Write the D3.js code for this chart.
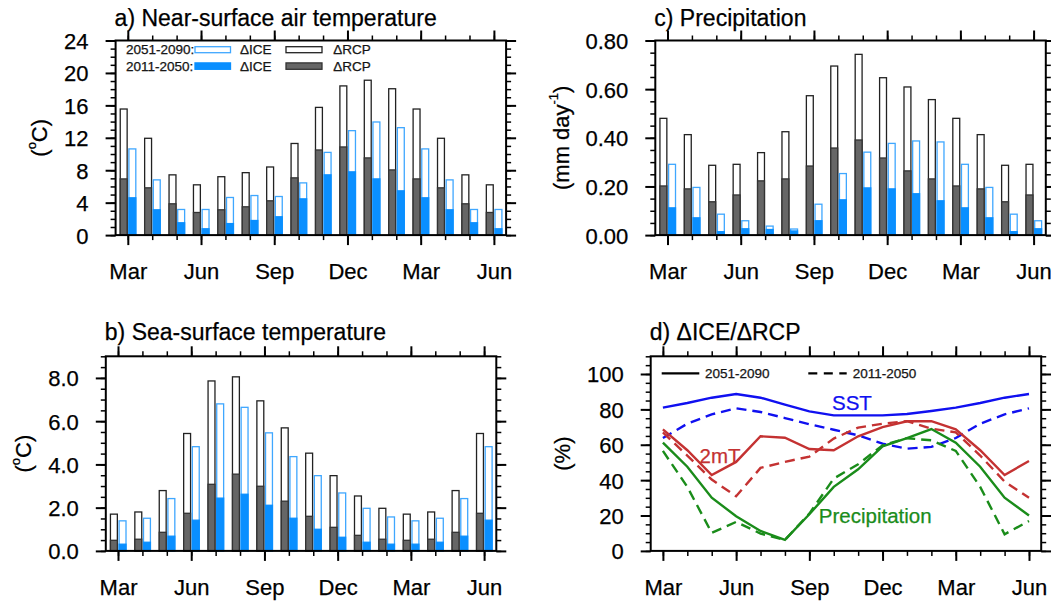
<!DOCTYPE html>
<html>
<head>
<meta charset="utf-8">
<script src="https://cdn.jsdelivr.net/npm/d3@7"></script>
<style>
  body { margin: 0; background: #fff; }
  svg { display: block; }
  svg text { stroke: currentColor; stroke-width: 0.25px; }
</style>
</head>
<body>
<script>
const width = 1051;
const height = 601;
const font = '"Liberation Sans", Arial, Helvetica, sans-serif';

// month index 0 = Mar, 15 = Jun of the next year
const monthTicks = [0, 3, 6, 9, 12, 15];
const monthLabels = ['Mar', 'Jun', 'Sep', 'Dec', 'Mar', 'Jun'];

// a) near-surface air temperature (degC)
const t2mRcp51 = [15.55, 11.94, 7.43, 6.2, 7.2, 7.7, 8.4, 11.3, 15.75, 18.4, 19.1, 18.05, 15.55, 11.94, 7.43, 6.2];
const t2mRcp11 = [6.93, 5.83, 3.86, 2.79, 3.12, 3.49, 4.23, 7.06, 10.5, 10.87, 9.52, 8.04, 6.93, 5.83, 3.86, 2.79];
const t2mIce51 = [10.63, 6.81, 3.16, 3.16, 4.64, 4.88, 4.76, 6.44, 10.2, 12.88, 13.95, 13.25, 10.63, 6.81, 3.16, 3.16];
const t2mIce11 = [4.6, 3.12, 1.52, 0.78, 1.42, 1.8, 2.26, 4.47, 7.43, 7.8, 6.93, 5.46, 4.6, 3.12, 1.52, 0.78];

// c) precipitation (mm/day)
const prRcp51 = [0.48, 0.413, 0.287, 0.291, 0.339, 0.425, 0.573, 0.695, 0.743, 0.647, 0.609, 0.557, 0.48, 0.413, 0.287, 0.291];
const prRcp11 = [0.202, 0.19, 0.137, 0.165, 0.223, 0.231, 0.284, 0.358, 0.391, 0.317, 0.264, 0.231, 0.202, 0.19, 0.137, 0.165];
const prIce51 = [0.291, 0.196, 0.086, 0.059, 0.037, 0.025, 0.127, 0.253, 0.341, 0.377, 0.387, 0.383, 0.291, 0.196, 0.086, 0.059];
const prIce11 = [0.112, 0.071, 0.014, 0.026, 0.023, 0.017, 0.059, 0.145, 0.194, 0.19, 0.17, 0.141, 0.112, 0.071, 0.014, 0.026];

// b) sea-surface temperature (degC)
const sstRcp51 = [1.70, 1.80, 2.79, 5.43, 7.86, 8.05, 6.94, 5.69, 4.52, 3.48, 2.54, 1.97, 1.70, 1.80, 2.79, 5.43];
const sstRcp11 = [0.49, 0.54, 0.86, 1.74, 3.08, 3.55, 2.99, 2.30, 1.60, 1.09, 0.72, 0.54, 0.49, 0.54, 0.86, 1.74];
const sstIce51 = [1.39, 1.51, 2.42, 4.82, 6.80, 6.64, 5.46, 4.36, 3.48, 2.68, 1.97, 1.57, 1.39, 1.51, 2.42, 4.82];
const sstIce11 = [0.31, 0.40, 0.68, 1.42, 2.44, 2.62, 2.11, 1.51, 1.00, 0.63, 0.40, 0.31, 0.31, 0.40, 0.68, 1.42];

// d) dICE/dRCP (%)
const sstRatio51 = [81, 83.6, 86.6, 88.7, 86.6, 82.7, 78.9, 76.6, 76.6, 76.6, 77.4, 79.1, 81, 83.6, 86.6, 88.7];
const sstRatio11 = [63.8, 71.9, 77.2, 80.6, 78.5, 75.1, 71.6, 68.5, 65.3, 60.6, 57.8, 58.8, 63.8, 71.9, 77.2, 80.6];
const t2mRatio51 = [68.7, 56.9, 42.9, 50.3, 64.8, 64, 57.6, 56.9, 64.8, 70, 73.3, 73.3, 68.7, 56.9, 42.9, 50.8];
const t2mRatio11 = [67, 53.9, 40.3, 30.9, 46.9, 50.3, 53.3, 63.5, 69.7, 71.9, 73.3, 69.1, 67, 53.9, 39.2, 30];
const prRatio51 = [61.2, 47.6, 30.1, 19.6, 11.3, 6.2, 20.7, 36.2, 46.1, 59.1, 63.8, 68.9, 61.2, 47.6, 30.1, 20];
const prRatio11 = [56.5, 36.2, 10.2, 16.4, 9.8, 6.2, 21.1, 40.9, 49, 59.7, 63.7, 62.5, 56.5, 36.2, 9.4, 16.9];

const colors = {
  rcpLine: '#222',
  rcpFill: '#666',
  iceLine: '#3fa7ff',
  iceFill: '#0a8fff',
  sst: '#1010f0',
  t2m: '#c43232',
  pr: '#1a8c1a'
};

const pw = 390.5;
const ph = 194.6;

const svg = d3.select('body').append('svg')
  .attr('width', width)
  .attr('height', height)
  .attr('viewBox', [0, 0, width, height])
  .style('font-family', font);

const steps = (top, step) => d3.range(0, Math.round(top / step) + 1).map(k => k * step);

function makePanel(cfg) {
  const g = svg.append('g')
    .attr('transform', `translate(${cfg.left},${cfg.top})`);

  const x = d3.scaleLinear().domain([-0.5, 15.5]).range([0, pw]);
  const y = d3.scaleLinear().domain([0, cfg.yMax]).range([ph, 0]);

  const marks = g.append('g');
  const axes = g.append('g');

  const clean = (s, w) => {
    s.select('.domain').remove();
    s.selectAll('line').attr('stroke-width', w);
  };

  const minorMonths = d3.range(16);
  const yMinor = steps(cfg.yMax, cfg.minorStep);
  const yMajor = steps(cfg.yTop, cfg.majorStep);

  // bottom
  axes.append('g')
    .attr('transform', `translate(0,${ph})`)
    .call(d3.axisBottom(x).tickValues(minorMonths).tickSize(5).tickFormat(''))
    .call(s => clean(s, 1.5));
  axes.append('g')
    .attr('transform', `translate(0,${ph})`)
    .call(d3.axisBottom(x).tickValues(monthTicks).tickSize(10)
      .tickFormat(d => monthLabels[monthTicks.indexOf(d)]))
    .call(s => clean(s, 2))
    .attr('font-size', 22)
    .attr('font-family', font)
    .call(s => s.selectAll('text').attr('y', 44).attr('dy', null).attr('fill', '#000'));

  // top
  axes.append('g')
    .call(d3.axisTop(x).tickValues(minorMonths).tickSize(5).tickFormat(''))
    .call(s => clean(s, 1.5));
  axes.append('g')
    .call(d3.axisTop(x).tickValues(monthTicks).tickSize(10).tickFormat(''))
    .call(s => clean(s, 2));

  // left
  axes.append('g')
    .call(d3.axisLeft(y).tickValues(yMinor).tickSize(5).tickFormat(''))
    .call(s => clean(s, 1.5));
  axes.append('g')
    .call(d3.axisLeft(y).tickValues(yMajor).tickSize(10).tickPadding(17)
      .tickFormat(d3.format(cfg.fmt)))
    .call(s => clean(s, 2))
    .attr('font-size', 22)
    .attr('font-family', font)
    .call(s => s.selectAll('text').attr('dy', '0.36em').attr('fill', '#000'));

  // right
  axes.append('g')
    .attr('transform', `translate(${pw},0)`)
    .call(d3.axisRight(y).tickValues(yMinor).tickSize(5).tickFormat(''))
    .call(s => clean(s, 1.5));
  axes.append('g')
    .attr('transform', `translate(${pw},0)`)
    .call(d3.axisRight(y).tickValues(yMajor).tickSize(10).tickFormat(''))
    .call(s => clean(s, 2));

  axes.append('rect')
    .attr('width', pw)
    .attr('height', ph)
    .attr('fill', 'none')
    .attr('stroke', '#000')
    .attr('stroke-width', 2);

  // title
  g.append('text')
    .attr('x', -1)
    .attr('y', -cfg.titleGap)
    .attr('font-size', 23)
    .text(cfg.title);

  // y-axis title
  const yt = g.append('text')
    .attr('transform', `translate(${cfg.yTitleX},${ph / 2}) rotate(-90)`)
    .attr('text-anchor', 'middle')
    .attr('dominant-baseline', 'central')
    .attr('font-size', 22);
  for (const [txt, sup] of cfg.yTitle) {
    const ts = yt.append('tspan').text(txt);
    if (sup) ts.attr('font-size', 13).attr('baseline-shift', '55%');
  }

  return { g: marks, root: g, x, y };
}

const rcpX = [-0.31, -0.027];
const iceX = [0.045, 0.328];

function barSet(p, values, off, fill, stroke) {
  p.g.append('g')
    .selectAll('rect')
    .data(values)
    .join('rect')
    .attr('x', (d, i) => p.x(i + off[0]))
    .attr('width', p.x(off[1]) - p.x(off[0]))
    .attr('y', d => p.y(d))
    .attr('height', d => p.y(0) - p.y(d))
    .attr('fill', fill)
    .attr('stroke', stroke)
    .attr('stroke-width', 1.3);
}

function bars(p, rcp51, rcp11, ice51, ice11) {
  barSet(p, rcp51, rcpX, '#fff', colors.rcpLine);
  barSet(p, rcp11, rcpX, colors.rcpFill, '#333');
  barSet(p, ice51, iceX, '#fff', colors.iceLine);
  barSet(p, ice11, iceX, colors.iceFill, colors.iceFill);
}

// a)
const pa = makePanel({
  left: 115.6, top: 40.5, yMax: 24, yTop: 24, majorStep: 4, minorStep: 1, fmt: 'd',
  title: 'a) Near-surface air temperature', titleGap: 15,
  yTitleX: -77, yTitle: [['('], ['o', true], ['C)']]
});
bars(pa, t2mRcp51, t2mRcp11, t2mIce51, t2mIce11);

// legend of a)
const leg = pa.root.append('g').attr('font-size', 13.5).attr('fill', '#222');
leg.append('text').attr('x', 10.4).attr('y', 13.5).text('2051-2090:');
leg.append('text').attr('x', 10.4).attr('y', 30.5).text('2011-2050:');
leg.append('rect').attr('x', 79.4).attr('y', 6.2).attr('width', 35.5).attr('height', 6)
  .attr('fill', '#fff').attr('stroke', colors.iceLine).attr('stroke-width', 1.3);
leg.append('rect').attr('x', 79.4).attr('y', 22.4).attr('width', 35.5).attr('height', 6.4)
  .attr('fill', colors.iceFill).attr('stroke', colors.iceFill).attr('stroke-width', 1.3);
leg.append('rect').attr('x', 170.4).attr('y', 6.2).attr('width', 36).attr('height', 6)
  .attr('fill', '#fff').attr('stroke', colors.rcpLine).attr('stroke-width', 1.3);
leg.append('rect').attr('x', 170.4).attr('y', 22.4).attr('width', 36).attr('height', 6.4)
  .attr('fill', colors.rcpFill).attr('stroke', '#333').attr('stroke-width', 1.3);
leg.append('text').attr('x', 124.4).attr('y', 13.5).text('\u0394ICE');
leg.append('text').attr('x', 124.4).attr('y', 30.5).text('\u0394ICE');
leg.append('text').attr('x', 217.7).attr('y', 13.5).text('\u0394RCP');
leg.append('text').attr('x', 217.7).attr('y', 30.5).text('\u0394RCP');

// c)
const pc = makePanel({
  left: 655.3, top: 40.5, yMax: 0.8, yTop: 0.8, majorStep: 0.2, minorStep: 0.05, fmt: '.2f',
  title: 'c) Precipitation', titleGap: 15,
  yTitleX: -94.3, yTitle: [['(mm day'], ['-1', true], [')']]
});
bars(pc, prRcp51, prRcp11, prIce51, prIce11);

// b)
const pb = makePanel({
  left: 105.8, top: 356.3, yMax: 9, yTop: 8, majorStep: 2, minorStep: 0.5, fmt: '.1f',
  title: 'b) Sea-surface temperature', titleGap: 16.8,
  yTitleX: -82.5, yTitle: [['('], ['o', true], ['C)']]
});
bars(pb, sstRcp51, sstRcp11, sstIce51, sstIce11);

// d)
const pd = makePanel({
  left: 650.7, top: 356.3, yMax: 110, yTop: 100, majorStep: 20, minorStep: 5, fmt: 'd',
  title: 'd) \u0394ICE/\u0394RCP', titleGap: 16.8,
  yTitleX: -88.5, yTitle: [['(%)']]
});

const line = d3.line()
  .x((d, i) => pd.x(i))
  .y(d => pd.y(d));

const series = [
  [sstRatio11, colors.sst, true],
  [sstRatio51, colors.sst, false],
  [t2mRatio11, colors.t2m, true],
  [t2mRatio51, colors.t2m, false],
  [prRatio11, colors.pr, true],
  [prRatio51, colors.pr, false]
];

for (const [vals, col, dashed] of series) {
  pd.g.append('path')
    .datum(vals)
    .attr('d', line)
    .attr('fill', 'none')
    .attr('stroke', col)
    .attr('stroke-width', 2.4)
    .attr('stroke-dasharray', dashed ? '10,6' : null);
}

const labels = [
  ['SST', 6.93, 79.6, colors.sst],
  ['2mT', 1.5, 49.8, colors.t2m],
  ['Precipitation', 6.39, 15.5, colors.pr]
];
pd.g.selectAll('text.lbl')
  .data(labels)
  .join('text')
  .attr('class', 'lbl')
  .attr('x', d => pd.x(d[1]))
  .attr('y', d => pd.y(d[2]))
  .attr('font-size', 20.5)
  .attr('fill', d => d[3])
  .style('color', d => d[3])
  .text(d => d[0]);

// legend of d)
const legd = pd.root.append('g').attr('font-size', 13.5).attr('fill', '#222');
legd.append('line').attr('x1', 11).attr('x2', 48.6).attr('y1', 17).attr('y2', 17)
  .attr('stroke', '#000').attr('stroke-width', 2.2);
legd.append('text').attr('x', 54.3).attr('y', 22).text('2051-2090');
legd.append('line').attr('x1', 157.6).attr('x2', 196).attr('y1', 17).attr('y2', 17)
  .attr('stroke', '#000').attr('stroke-width', 2.2).attr('stroke-dasharray', '9,6.5');
legd.append('text').attr('x', 202).attr('y', 22).text('2011-2050');
</script>
</body>
</html>
